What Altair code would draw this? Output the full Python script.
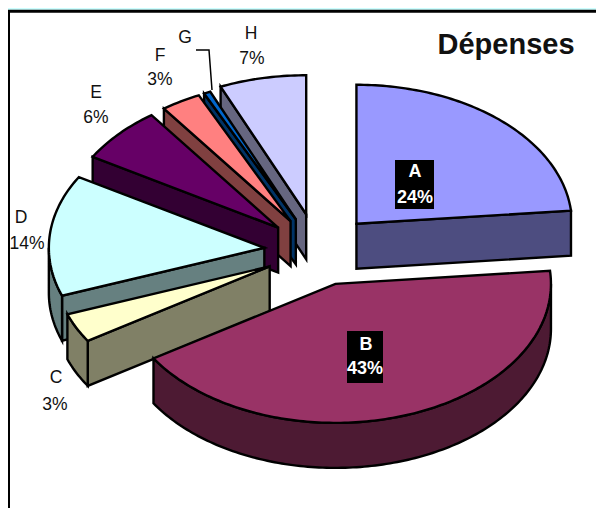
import math
import altair as alt
import pandas as pd

categories = ["A", "B", "C", "D", "E", "F", "G", "H"]
shares = [23.5, 42.5, 3.4, 14.1, 6.5, 3.0, 0.5, 6.5]
explode = [0.265, 0.25, 0.25, 0.25, 0.25, 0.25, 0.25, 0.27]
top_colors = ["#9999FF", "#993366", "#FFFFCC", "#CCFFFF", "#660066", "#FF8080", "#0066CC", "#CCCCFF"]
wall_colors = ["#4D4D80", "#4D1A33", "#808066", "#668080", "#330033", "#804040", "#003366", "#666680"]
paint_order = ["A", "H", "G", "F", "E", "D", "C", "B"]

label_text = ["H", "7%", "G", "F", "3%", "E", "6%", "D", "14%", "C", "3%"]
label_x = [251, 252, 185, 160, 160, 96, 96, 21, 27, 56, 55]
label_y = [34, 59, 38, 56, 80, 93, 118, 218, 244, 378, 405]

inner_text = ["A", "24%", "B", "43%"]
inner_x = [415, 415, 366, 365]
inner_y = [172, 198, 345, 369]
box_x = [395, 347]
box_x2 = [434, 383]
box_y = [160, 331]
box_y2 = [209, 383]

CX, CY, RX, RY, DEPTH = 318, 251, 215.5, 139, 45

xs = alt.Scale(domain=[8, 596], range=[0, 588])
ys = alt.Scale(domain=[8, 508], range=[0, 500])


def point(ax, ay, deg, drop=0):
    t = math.radians(deg)
    return [ax + RX * math.sin(t), ay - RY * math.cos(t) + drop]


def feature(ring, color):
    return {
        "type": "Feature",
        "geometry": {"type": "Polygon", "coordinates": [ring + [ring[0]]]},
        "properties": {"fill": color},
    }


total = sum(shares)
spans = {}
start = 0.0
for c, s in zip(categories, shares):
    spans[c] = (start, start + s / total * 360)
    start += s / total * 360

features = []
for c in paint_order:
    i = categories.index(c)
    t0, t1 = spans[c]
    mid = math.radians((t0 + t1) / 2)
    ax = CX + explode[i] * RX * math.sin(mid)
    ay = CY - explode[i] * RY * math.cos(mid)
    apex = [ax, ay]
    low = [ax, ay + DEPTH]
    # only the radial walls that face the viewer are drawn
    if math.sin(math.radians(t0)) < -1e-6:
        features.append(feature([apex, point(ax, ay, t0), point(ax, ay, t0, DEPTH), low], wall_colors[i]))
    if math.sin(math.radians(t1)) > 1e-6:
        features.append(feature([apex, point(ax, ay, t1), point(ax, ay, t1, DEPTH), low], wall_colors[i]))
    a0, a1 = max(t0, 90), min(t1, 270)
    if a1 > a0:
        steps = max(2, int(a1 - a0))
        degs = [a0 + (a1 - a0) * k / steps for k in range(steps + 1)]
        features.append(feature(
            [point(ax, ay, d) for d in degs] + [point(ax, ay, d, DEPTH) for d in reversed(degs)],
            wall_colors[i],
        ))
    steps = max(2, int(t1 - t0))
    degs = [t0 + (t1 - t0) * k / steps for k in range(steps + 1)]
    features.append(feature([apex] + [point(ax, ay, d) for d in degs], top_colors[i]))

frame = alt.Chart(pd.DataFrame({"k": [0]})).mark_rect(
    fill="white", stroke="black", strokeWidth=3
).encode(x=alt.value(0.5), x2=alt.value(610), y=alt.value(3.2), y2=alt.value(520))

pie = alt.Chart(alt.Data(values=features)).mark_geoshape(
    stroke="black", strokeWidth=2.4, strokeJoin="miter"
).encode(
    color=alt.Color("properties.fill:N", scale=None, legend=None)
).project(type="identity", scale=1, translate=[-8, -8])

leader = alt.Chart(pd.DataFrame({"x": [196, 209, 212], "y": [50, 50, 90], "o": [0, 1, 2]})).mark_line(
    color="black", strokeWidth=1.5
).encode(
    x=alt.X("x:Q", scale=xs, axis=None),
    y=alt.Y("y:Q", scale=ys, axis=None),
    order="o:Q",
)

labels = alt.Chart(pd.DataFrame({"t": label_text, "x": label_x, "y": label_y})).mark_text(
    font="Liberation Sans", fontSize=17.5, color="#111111", align="center"
).encode(
    x=alt.X("x:Q", scale=xs, axis=None),
    y=alt.Y("y:Q", scale=ys, axis=None),
    text="t:N",
)

boxes = alt.Chart(pd.DataFrame({"x": box_x, "x2": box_x2, "y": box_y, "y2": box_y2})).mark_rect(
    color="black"
).encode(
    x=alt.X("x:Q", scale=xs, axis=None), x2="x2:Q",
    y=alt.Y("y:Q", scale=ys, axis=None), y2="y2:Q",
)

inner = alt.Chart(pd.DataFrame({"t": inner_text, "x": inner_x, "y": inner_y})).mark_text(
    font="Liberation Sans", fontSize=18, fontWeight="bold", color="white", align="center"
).encode(
    x=alt.X("x:Q", scale=xs, axis=None),
    y=alt.Y("y:Q", scale=ys, axis=None),
    text="t:N",
)

title = alt.Chart(pd.DataFrame({"t": ["Dépenses"], "x": [506], "y": [54]})).mark_text(
    font="Liberation Sans", fontSize=29, fontWeight="bold", color="#111111", align="center", baseline="alphabetic"
).encode(
    x=alt.X("x:Q", scale=xs, axis=None),
    y=alt.Y("y:Q", scale=ys, axis=None),
    text="t:N",
)

chart = alt.layer(frame, pie, leader, labels, boxes, inner, title).properties(
    width=588, height=500, background="#CCFFFF", padding=0,
    autosize=alt.AutoSizeParams(type="none"),
).configure_view(stroke=None)

chart.save("out.html", embed_options={"renderer": "svg", "actions": False})
